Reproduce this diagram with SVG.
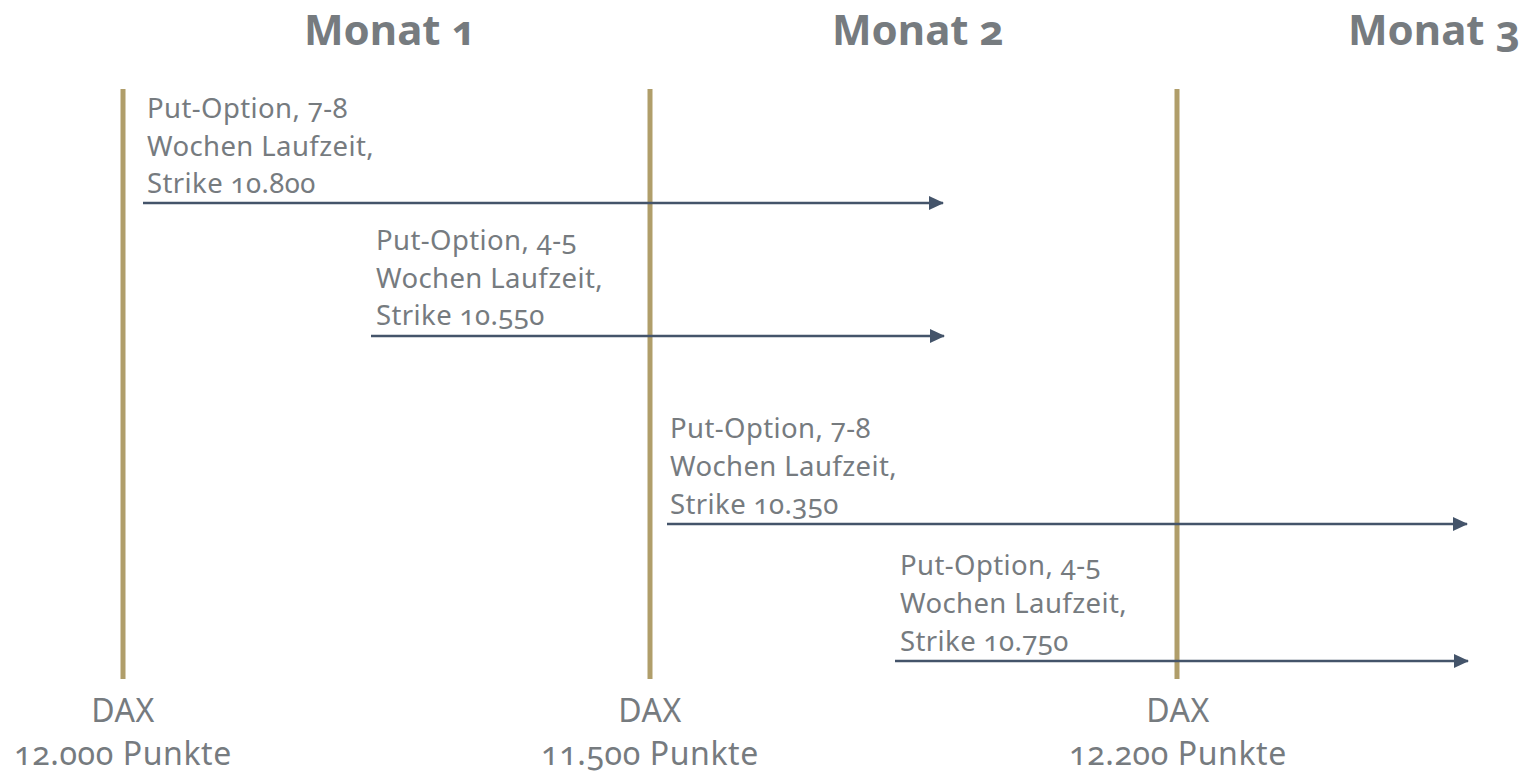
<svg xmlns="http://www.w3.org/2000/svg" width="1528" height="773" viewBox="0 0 1528 773">
<style>
.t{font-family:"Noto Sans","Open Sans",sans-serif;fill:#767B7F;font-variant-numeric:oldstyle-nums;}
.h{font-size:42px;font-weight:bold;text-anchor:middle;}
.l{font-size:27.5px;letter-spacing:0.4px;}
.d{font-size:32px;letter-spacing:0.6px;text-anchor:middle;}
.v{stroke:#B09E6A;stroke-width:5;}
.a{stroke:#44546A;stroke-width:2.5;fill:none;marker-end:url(#ah);}
</style>
<defs>
<marker id="ah" markerWidth="16" markerHeight="16" refX="14" refY="8" orient="auto" markerUnits="userSpaceOnUse" viewBox="0 0 16 16">
<path d="M0,1 L15,8 L0,15 Z" fill="#44546A"/>
</marker>
</defs>
<rect width="1528" height="773" fill="#fff"/>
<g id="headers">
<text class="t h" x="390" y="45">Monat 1</text>
<text class="t h" x="918" y="45">Monat 2</text>
<text class="t h" x="1434" y="45">Monat 3</text>
</g>
<g id="timelines">
<line class="v" x1="123" y1="89" x2="123" y2="679"/>
<line class="v" x1="650" y1="89" x2="650" y2="679"/>
<line class="v" x1="1177" y1="89" x2="1177" y2="679"/>
</g>
<g id="connectors">
<path class="a" d="M143,203 H943"/>
<path class="a" d="M371,336 H944"/>
<path class="a" d="M667,524 H1467"/>
<path class="a" d="M895,661 H1468"/>
</g>
<g id="opt1"><text class="t l" x="147" y="118">Put-Option, 7-8</text><text class="t l" x="147" y="156">Wochen Laufzeit,</text><text class="t l" x="147" y="193">Strike 10.800</text></g>
<g id="opt2"><text class="t l" x="376" y="250">Put-Option, 4-5</text><text class="t l" x="376" y="288">Wochen Laufzeit,</text><text class="t l" x="376" y="325">Strike 10.550</text></g>
<g id="opt3"><text class="t l" x="670" y="438">Put-Option, 7-8</text><text class="t l" x="670" y="476">Wochen Laufzeit,</text><text class="t l" x="670" y="514">Strike 10.350</text></g>
<g id="opt4"><text class="t l" x="900" y="575">Put-Option, 4-5</text><text class="t l" x="900" y="613">Wochen Laufzeit,</text><text class="t l" x="900" y="651">Strike 10.750</text></g>
<g id="dax1"><text class="t d" x="123" y="722">DAX</text><text class="t d" x="123" y="765">12.000 Punkte</text></g>
<g id="dax2"><text class="t d" x="650" y="722">DAX</text><text class="t d" x="650" y="765">11.500 Punkte</text></g>
<g id="dax3"><text class="t d" x="1178" y="722">DAX</text><text class="t d" x="1178" y="765">12.200 Punkte</text></g>
</svg>
